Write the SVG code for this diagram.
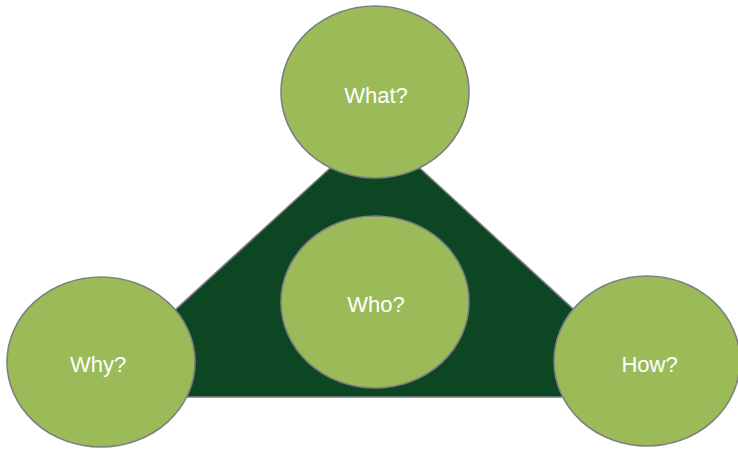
<svg xmlns="http://www.w3.org/2000/svg" width="738" height="451" viewBox="0 0 738 451">
<style>
.node ellipse{fill:#9bbb59;stroke:#7f7f7f;stroke-width:1.6}
.node text{font-family:"Liberation Sans",Arial,sans-serif;font-size:22px;fill:#ffffff;text-anchor:middle}
.tri{fill:#0d4623;stroke:#7f7f7f;stroke-width:1.6}
</style>
<g id="connectors">
<polygon class="tri" points="80,397 669,397 375,127"/>
</g>
<g id="node-what" class="node">
<ellipse cx="375" cy="92" rx="94" ry="86"/>
<text x="376" y="102.5">What?</text>
</g>
<g id="node-who" class="node">
<ellipse cx="375" cy="302" rx="94" ry="86"/>
<text x="376" y="312">Who?</text>
</g>
<g id="node-why" class="node">
<ellipse cx="101" cy="362" rx="94" ry="85"/>
<text x="98" y="371.5">Why?</text>
</g>
<g id="node-how" class="node">
<ellipse cx="647" cy="361" rx="93" ry="85"/>
<text x="649.5" y="371.5">How?</text>
</g>
</svg>
